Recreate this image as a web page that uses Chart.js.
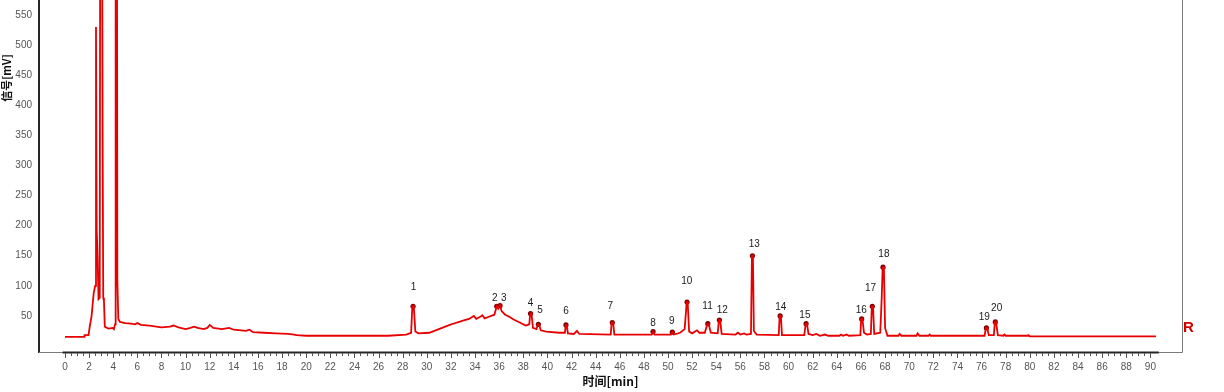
<!DOCTYPE html>
<html lang="zh">
<head>
<meta charset="UTF-8">
<title>色谱图</title>
<script src="https://cdn.jsdelivr.net/npm/chart.js"></script>
<style>
  html, body { margin: 0; padding: 0; background: #fff; }
  #wrap { width: 1224px; height: 392px; position: relative; }
</style>
</head>
<body>
<div id="wrap"><canvas id="chrom"></canvas></div>
<script>
// trace: retention time (min) and signal (mV)
const timeMin = [
  0, 1.6, 1.62, 1.95, 2.05, 2.2, 2.38, 2.5, 2.57, 2.63, 2.7, 2.78, 2.88, 2.93, 3.05, 3.12, 3.17, 3.23, 3.3, 3.6,
  3.95, 4.05, 4.15, 4.2, 4.3, 4.34, 4.42, 4.55, 5.0, 5.5, 5.8, 6.0, 6.3, 7.0, 8.0, 8.7, 9.0, 9.4, 10.0, 10.4,
  10.7, 11.0, 11.5, 11.8, 12.0, 12.3, 13.0, 13.6, 14.0, 15.0, 15.3, 15.6, 16.5, 17.5, 18.5, 19.0, 19.2, 20.0, 26.8, 28.3,
  28.7, 28.8, 28.92, 29.05, 29.3, 30.2, 31.0, 31.9, 32.5, 33.0, 33.5, 33.9, 34.1, 34.4, 34.6, 34.8, 35.2, 35.6, 35.8, 35.92,
  36.07, 36.2, 36.5, 36.8, 37.2, 37.7, 38.2, 38.5, 38.57, 38.68, 38.8, 39.1, 39.2, 39.3, 39.45, 39.9, 41.0, 41.45, 41.52, 41.6,
  41.7, 42.2, 42.45, 42.65, 45.25, 45.33, 45.45, 45.55, 48.65, 48.76, 48.88, 50.25, 50.36, 50.48, 51.0, 51.38, 51.55, 51.63, 51.75, 52.0,
  52.4, 52.6, 53.05, 53.27, 53.38, 53.55, 54.12, 54.22, 54.32, 54.45, 55.6, 55.8, 56.0, 56.3, 56.5, 56.88, 56.96, 57.04, 57.12, 57.35,
  59.18, 59.26, 59.36, 59.45, 61.3, 61.42, 61.52, 61.65, 62.0, 62.3, 62.6, 63.0, 63.3, 64.2, 64.35, 64.5, 64.8, 65.0, 65.95, 66.02,
  66.12, 66.25, 66.5, 66.82, 66.9, 67.0, 67.1, 67.6, 67.72, 67.8, 67.9, 68.0, 68.2, 69.1, 69.2, 69.35, 70.6, 70.7, 70.85, 71.6,
  71.7, 71.8, 76.25, 76.36, 76.46, 76.6, 77.02, 77.1, 77.2, 77.35, 77.8, 77.9, 78.0, 79.8, 79.9, 80.0, 90.46
];
const signalMv = [
  15, 15, 18, 18, 32, 49, 88, 100, 530, 193, 150, 78, 80, 900, 900, 345, 80, 75, 32, 29,
  30, 28, 36, 900, 900, 110, 45, 40, 38, 37, 36, 38, 35, 34, 31, 32, 34, 31, 28, 30,
  32, 30, 28, 30, 35, 30, 28, 30, 27, 25, 27, 23, 22, 21, 20, 19, 18, 17, 17, 19,
  22, 66, 66, 24, 21, 22, 28, 35, 39, 42, 45, 50, 45, 48, 51, 46, 49, 52, 66, 62,
  68, 58, 52, 49, 44, 39, 34, 36, 54, 54, 30, 28, 36, 36, 26, 24, 22, 22, 35, 35,
  21, 20, 25, 20, 19, 39, 39, 19, 19, 24, 19, 19, 23, 19, 22, 28, 73, 73, 24, 21,
  26, 22, 22, 37, 36, 22, 21, 43, 43, 20, 19, 22, 19, 21, 19, 20, 150, 150, 25, 19,
  18, 50, 50, 18, 18, 37, 37, 20, 18, 20, 17, 19, 17, 17, 19, 17, 19, 17, 18, 45,
  45, 22, 19, 20, 66, 66, 20, 22, 80, 131, 131, 30, 17, 17, 20, 17, 17, 21, 17, 17,
  19, 17, 17, 30, 30, 18, 18, 40, 40, 18, 17, 19, 17, 17, 18, 16, 16
];

// integrated peaks
const peakNo = ['1', '2', '3', '4', '5', '6', '7', '8', '9', '10', '11', '12', '13', '14', '15', '16', '17', '18', '19', '20'];
const peakTime = [28.86, 35.8, 36.07, 38.6, 39.25, 41.54, 45.38, 48.76, 50.36, 51.58, 53.3, 54.26, 57.0, 59.3, 61.45, 66.06, 66.94, 67.83, 76.4, 77.14];
const peakMv = [66, 66, 67, 54, 36, 35, 39, 24, 23, 73, 37, 43, 150, 50, 37, 45, 66, 131, 30, 40];
// where the software put each peak number (data units)
const labelTime = [28.9, 35.63, 36.38, 38.6, 39.39, 41.54, 45.21, 48.76, 50.32, 51.55, 53.28, 54.5, 57.15, 59.35, 61.35, 66.03, 66.8, 67.9, 76.23, 77.25];
const labelMv = [98, 80, 80, 71, 60, 57, 66, 38, 41, 107, 66, 60, 169, 64, 51, 60, 96, 152, 48, 63];

const xTickValues = [0, 2, 4, 6, 8, 10, 12, 14, 16, 18, 20, 22, 24, 26, 28, 30, 32, 34, 36, 38, 40, 42, 44, 46,
  48, 50, 52, 54, 56, 58, 60, 62, 64, 66, 68, 70, 72, 74, 76, 78, 80, 82, 84, 86, 88, 90];
const yTickValues = [50, 100, 150, 200, 250, 300, 350, 400, 450, 500, 550];

const tickFont = { family: "'Liberation Sans', Arial, sans-serif", size: 10 };

const decor = {
  id: 'decor',
  afterDraw(chart) {
    const { ctx, chartArea: a, scales: { x, y } } = chart;
    ctx.save();
    // outer frame (grey)
    ctx.strokeStyle = '#7a7a7a';
    ctx.lineWidth = 1;
    ctx.beginPath();
    ctx.moveTo(a.left, a.bottom + 0.5);
    ctx.lineTo(a.right + 0.5, a.bottom + 0.5);
    ctx.lineTo(a.right + 0.5, 0);
    ctx.stroke();
    // time axis line
    ctx.strokeStyle = '#262626';
    ctx.lineWidth = 2;
    ctx.beginPath();
    ctx.moveTo(x.getPixelForValue(-0.2), a.bottom + 0.5);
    ctx.lineTo(x.getPixelForValue(90.7), a.bottom + 0.5);
    ctx.stroke();
    // major / minor ticks
    ctx.strokeStyle = '#555';
    ctx.lineWidth = 1;
    ctx.beginPath();
    for (let t = 0; t <= 90; t += 0.5) {
      const px = Math.round(x.getPixelForValue(t)) + 0.5;
      const len = (t % 2 === 0) ? 5 : 3;
      ctx.moveTo(px, a.bottom + 1);
      ctx.lineTo(px, a.bottom + 1 + len);
    }
    ctx.stroke();

    // peak numbers
    ctx.fillStyle = '#1a1a1a';
    ctx.font = "10px 'Liberation Sans', Arial, sans-serif";
    ctx.textAlign = 'center';
    ctx.textBaseline = 'middle';
    peakNo.forEach((n, i) => {
      ctx.fillText(n, x.getPixelForValue(labelTime[i]), y.getPixelForValue(labelMv[i]));
    });

    // channel tag
    ctx.fillStyle = '#d40000';
    ctx.font = "bold 15px 'Liberation Sans', Arial, sans-serif";
    ctx.textAlign = 'left';
    ctx.fillText('R', a.right + 1, y.getPixelForValue(30));

    // y title (the original plot is cropped at the top)
    ctx.translate(7, a.top + 78);
    ctx.rotate(-Math.PI / 2);
    ctx.fillStyle = '#111';
    ctx.font = "bold 11px 'Noto Sans CJK SC', sans-serif";
    ctx.textAlign = 'center';
    ctx.fillText('信号[mV]', 0, 0);
    ctx.restore();
  }
};

// the plot continues above the picture, so no room is kept for the top label
const noEdgePad = s => {
  s.paddingTop = 0;
  s.paddingBottom = 0;
  s.paddingLeft = 0;
  s.paddingRight = 0;
};

new Chart(document.getElementById('chrom'), {
  type: 'scatter',
  data: {
    datasets: [
      {
        label: 'R',
        data: timeMin.map((t, i) => ({ x: t, y: signalMv[i] })),
        showLine: true,
        borderColor: '#e80000',
        borderWidth: 1.8,
        pointRadius: 0,
        tension: 0
      },
      {
        label: 'peaks',
        data: peakTime.map((t, i) => ({ x: t, y: peakMv[i] })),
        showLine: false,
        pointStyle: 'circle',
        pointRadius: 2.6,
        backgroundColor: '#7d0000',
        borderColor: '#7d0000',
        borderWidth: 0
      }
    ]
  },
  options: {
    responsive: true,
    maintainAspectRatio: false,
    animation: false,
    layout: { autoPadding: false, padding: { left: 0, right: 42, top: 0, bottom: 0 } },
    plugins: { legend: { display: false }, tooltip: { enabled: false } },
    scales: {
      x: {
        type: 'linear',
        min: -2.156,
        max: 92.62,
        afterBuildTicks: s => { s.ticks = xTickValues.map(v => ({ value: v })); },
        afterFit: s => { s.height = 40; noEdgePad(s); },
        grid: { display: false, drawTicks: false },
        border: { display: false },
        ticks: { autoSkip: false, maxRotation: 0, padding: 9, color: '#555', font: tickFont },
        title: {
          display: true,
          text: '时间[min]',
          color: '#111',
          font: { family: "'Noto Sans CJK SC', sans-serif", size: 12, weight: 'bold' },
          padding: { top: 0, bottom: 3 }
        }
      },
      y: {
        min: -10,
        max: 575,
        afterBuildTicks: s => { s.ticks = yTickValues.map(v => ({ value: v })); },
        afterFit: s => { s.width = 39; noEdgePad(s); },
        grid: { display: false, drawTicks: false },
        border: { display: true, color: '#262626', width: 2 },
        ticks: { padding: 7, color: '#555', font: tickFont }
      }
    }
  },
  plugins: [decor]
});
</script>
</body>
</html>
